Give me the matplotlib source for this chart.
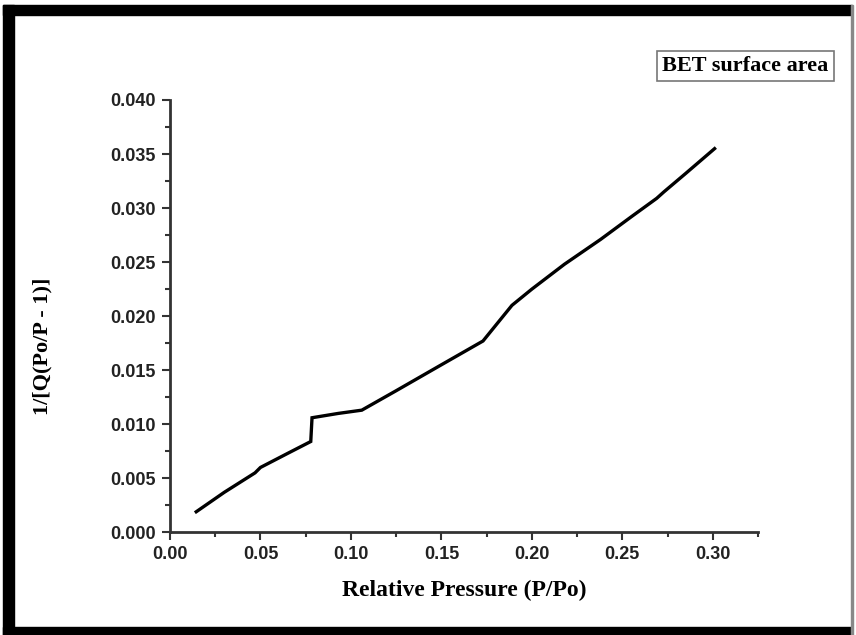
import matplotlib
matplotlib.use("Agg")
import matplotlib.pyplot as plt
from matplotlib.patches import Rectangle
from matplotlib.ticker import MultipleLocator, FormatStrFormatter

# Data
pressure = [0.0145, 0.030, 0.047, 0.050, 0.065, 0.0778, 0.0785, 0.093, 0.106,
            0.125, 0.150, 0.173, 0.189, 0.200, 0.218, 0.238, 0.255, 0.269,
            0.273, 0.285, 0.301]
bet_value = [0.0019, 0.0037, 0.0055, 0.0060, 0.0073, 0.0084, 0.0106, 0.0110,
             0.0113, 0.0131, 0.0155, 0.0177, 0.0210, 0.0225, 0.0248, 0.0271,
             0.0292, 0.0309, 0.0315, 0.0332, 0.0355]
x_label = "Relative Pressure (P/Po)"
y_label = "1/[Q(Po/P - 1)]"
legend_text = "BET surface area"

W, H = 856, 635
fig = plt.figure(figsize=(W / 100, H / 100), dpi=100)
fig.patch.set_facecolor("white")


def fx(px):
    return px / W


def fy(py):
    return 1 - py / H


frame_col = "black"
# left band
fig.patches.append(Rectangle((fx(3), fy(635)), fx(11), fy(5) - fy(635),
                             transform=fig.transFigure, color=frame_col))
# top band
fig.patches.append(Rectangle((fx(3), fy(15)), fx(852) - fx(3), fy(5) - fy(15),
                             transform=fig.transFigure, color=frame_col))
# bottom band
fig.patches.append(Rectangle((fx(3), fy(635)), fx(852) - fx(3), fy(627) - fy(635),
                             transform=fig.transFigure, color=frame_col))
# thin right edge
fig.patches.append(Rectangle((fx(851), fy(635)), fx(2), fy(5) - fy(635),
                             transform=fig.transFigure, color="#888888"))

ax = fig.add_axes([fx(170), fy(532.3), fx(758) - fx(170), fy(100) - fy(532.3)])
ax.plot(pressure, bet_value, color="black", lw=2.4, solid_joinstyle="miter")

ax.set_xlim(0, 0.325)
ax.set_ylim(0, 0.040)
for s in ["top", "right"]:
    ax.spines[s].set_visible(False)
for s in ["left", "bottom"]:
    ax.spines[s].set_color("#333333")
    ax.spines[s].set_linewidth(2)

ax.xaxis.set_major_locator(MultipleLocator(0.05))
ax.xaxis.set_minor_locator(MultipleLocator(0.025))
ax.yaxis.set_major_locator(MultipleLocator(0.005))
ax.yaxis.set_minor_locator(MultipleLocator(0.0025))
ax.xaxis.set_major_formatter(FormatStrFormatter("%.2f"))
ax.yaxis.set_major_formatter(FormatStrFormatter("%.3f"))
ax.tick_params(which="major", direction="out", length=6, width=1.5, color="#333333",
               labelsize=13, pad=4)
ax.tick_params(which="minor", direction="out", length=3.5, width=1.5, color="#333333")
for lab in ax.get_xticklabels() + ax.get_yticklabels():
    lab.set_fontfamily("Liberation Sans")
    lab.set_fontweight("bold")
    lab.set_color("#222222")

ax.set_xlabel(x_label, family="Liberation Serif", fontweight="bold", fontsize=17,
              labelpad=12)
fig.text(fx(42), fy(346), y_label, family="Liberation Serif", fontweight="bold",
         fontsize=16, rotation=90, ha="center", va="center")

fig.text(fx(745.5), fy(66), legend_text, family="Liberation Serif", fontweight="bold",
         fontsize=16, ha="center", va="center",
         bbox=dict(boxstyle="square,pad=0.22", fc="white", ec="#777777", lw=1.2))

fig.savefig("out.png", dpi=100, facecolor="white")
